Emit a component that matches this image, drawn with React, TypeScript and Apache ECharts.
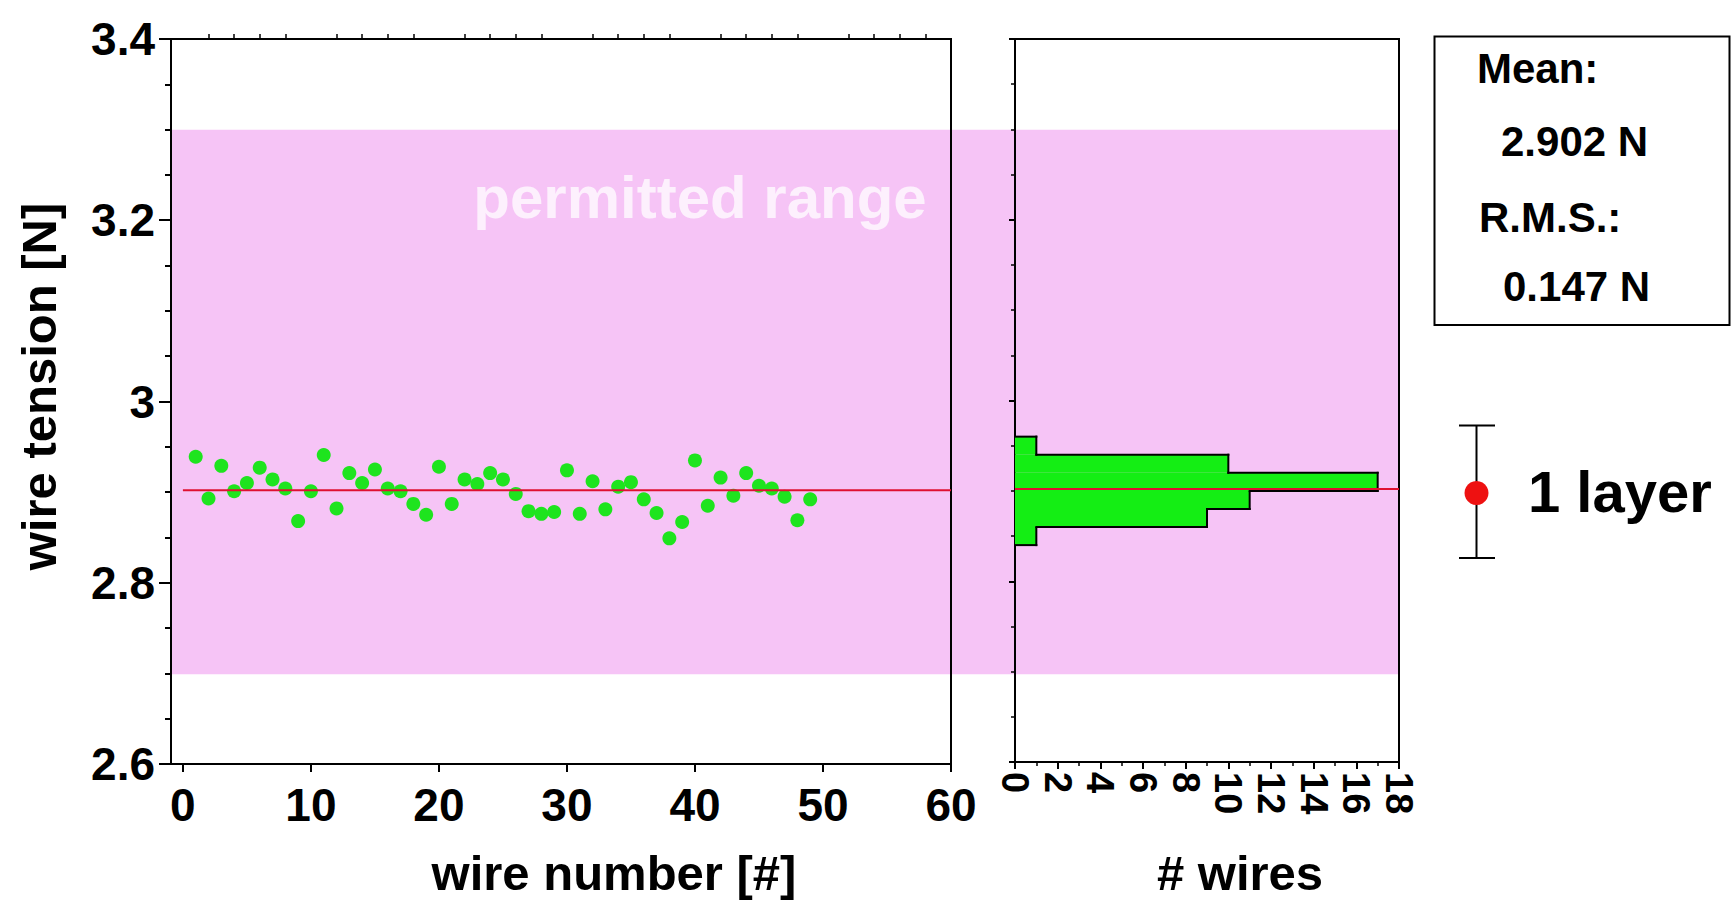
import React, { useEffect, useRef } from 'react';
import * as echarts from 'echarts';

// ---- data ----
const wireNumbers = [
  1, 2, 3, 4, 5, 6, 7, 8, 9, 10,
  11, 12, 13, 14, 15, 16, 17, 18, 19, 20,
  21, 22, 23, 24, 25, 26, 27, 28, 29, 30,
  31, 32, 33, 34, 35, 36, 37, 38, 39, 40,
  41, 42, 43, 44, 45, 46, 47, 48, 49,
];
const tensions = [
  2.939, 2.893, 2.929, 2.901, 2.910, 2.927, 2.914, 2.904, 2.868, 2.901,
  2.941, 2.882, 2.921, 2.910, 2.925, 2.904, 2.901, 2.887, 2.875, 2.928,
  2.887, 2.914, 2.909, 2.921, 2.914, 2.898, 2.879, 2.876, 2.878, 2.924,
  2.876, 2.912, 2.881, 2.906, 2.911, 2.892, 2.877, 2.849, 2.867, 2.935,
  2.885, 2.916, 2.896, 2.921, 2.907, 2.904, 2.895, 2.869, 2.892,
];
const binEdges = [2.84, 2.86, 2.88, 2.9, 2.92, 2.94, 2.96];
const binCounts = [1, 9, 11, 17, 10, 1];
const meanTension = 2.902;
const rmsTension = 0.147;
const permittedRange = [2.7, 3.3];
const xTickValues = [0, 10, 20, 30, 40, 50, 60];
const xMinorTickValues = [2, 4, 6, 8, 12, 14, 16, 18, 22, 24, 26, 28, 32, 34, 36, 38, 42, 44, 46, 48, 52, 54, 56, 58];
const legendLabel = '1 layer';
const bandLabel = 'permitted range';

const FONT = '"Liberation Sans", Arial, Helvetica, sans-serif';
const PINK = '#f6c4f6';
const GREEN = '#14ee14';
const DOT = '#1ee41e';
const RED = '#df1030';

export default function App() {
  const ref = useRef<HTMLDivElement>(null);

  useEffect(() => {
    document.body.style.margin = '0';
    if (!ref.current) return;
    const chart = echarts.init(ref.current, undefined, { renderer: 'svg' });

    const g1 = { left: 171, top: 39, width: 780, height: 726 };
    const g2 = { left: 1015, top: 39, width: 384, height: 726 };
    const gBg = { left: 171, top: 39, width: 1228, height: 726 };

    const histData = binCounts.map((c, i) => [
      binEdges[i],
      binEdges[i + 1],
      c,
      i === 0 ? 0 : binCounts[i - 1],
      i === binCounts.length - 1 ? 1 : 0,
    ]);

    const blackLine = { stroke: '#000', lineWidth: 2, lineCap: 'square' };

    const option: any = {
      animation: false,
      backgroundColor: '#fff',
      textStyle: { fontFamily: FONT },
      grid: [
        { ...gBg, show: false },
        { ...g1, show: true, borderColor: '#000', borderWidth: 2, z: 3 },
        { ...g2, show: true, borderColor: '#000', borderWidth: 2, z: 3 },
      ],
      xAxis: [
        { gridIndex: 0, type: 'value', min: 0, max: 1, show: false },
        {
          gridIndex: 1, type: 'value', min: -0.93, max: 60, z: 4,
          axisLine: { show: true, onZero: false, lineStyle: { color: '#000', width: 2 } },
          axisTick: { show: true, customValues: xTickValues, length: 8, lineStyle: { color: '#000', width: 2 } },
          axisLabel: { show: true, customValues: xTickValues, fontSize: 46, fontWeight: 'bold', color: '#000', margin: 18, fontFamily: FONT },
          splitLine: { show: false },
          name: 'wire number [#]', nameLocation: 'middle', nameGap: 84,
          nameTextStyle: { fontSize: 49, fontWeight: 'bold', color: '#000', fontFamily: FONT, padding: [0, 0, 0, 106] },
        },
        {
          gridIndex: 1, type: 'value', min: -0.93, max: 60, z: 4,
          axisLine: { show: false },
          axisTick: { show: true, customValues: xMinorTickValues, length: 5, lineStyle: { color: '#000', width: 1.5 } },
          axisLabel: { show: false },
          splitLine: { show: false },
        },
        {
          gridIndex: 2, type: 'value', min: 0, max: 18, interval: 2, z: 4,
          axisLine: { show: true, onZero: false, lineStyle: { color: '#000', width: 2 } },
          axisTick: { show: true, length: 7, lineStyle: { color: '#000', width: 2 } },
          minorTick: { show: true, splitNumber: 2, length: 4, lineStyle: { color: '#000', width: 1.5 } },
          axisLabel: { show: true, rotate: -90, fontSize: 38, fontWeight: 'bold', color: '#000', margin: 10, fontFamily: FONT },
          splitLine: { show: false },
          minorSplitLine: { show: false },
          name: '# wires', nameLocation: 'middle', nameGap: 86,
          nameTextStyle: { fontSize: 49, fontWeight: 'bold', color: '#000', fontFamily: FONT, padding: [0, 0, 0, 66] },
        },
      ],
      yAxis: [
        { gridIndex: 0, type: 'value', min: 2.6, max: 3.4, show: false },
        {
          gridIndex: 1, type: 'value', min: 2.6, max: 3.4, interval: 0.2, z: 4,
          axisLine: { show: true, onZero: false, lineStyle: { color: '#000', width: 2 } },
          axisTick: { show: true, length: 12, lineStyle: { color: '#000', width: 2 } },
          minorTick: { show: true, splitNumber: 4, length: 6, lineStyle: { color: '#000', width: 2 } },
          axisLabel: { show: true, fontSize: 46, fontWeight: 'bold', color: '#000', margin: 16, fontFamily: FONT },
          splitLine: { show: false },
          minorSplitLine: { show: false },
          name: 'wire tension [N]', nameLocation: 'middle', nameRotate: 90, nameGap: 108,
          nameTextStyle: { fontSize: 49, fontWeight: 'bold', color: '#000', fontFamily: FONT, padding: [0, 0, 0, 30] },
        },
        {
          gridIndex: 2, type: 'value', min: 2.6, max: 3.4, interval: 0.2, z: 4,
          axisLine: { show: true, onZero: false, lineStyle: { color: '#000', width: 2 } },
          axisTick: { show: true, length: 6, lineStyle: { color: '#000', width: 2 } },
          minorTick: { show: true, splitNumber: 4, length: 4, lineStyle: { color: '#000', width: 1.5 } },
          axisLabel: { show: false },
          splitLine: { show: false },
          minorSplitLine: { show: false },
        },
      ],
      series: [
        {
          type: 'custom', xAxisIndex: 0, yAxisIndex: 0, z: 1, silent: true,
          data: [[permittedRange[0], permittedRange[1]]],
          renderItem: (_p: any, api: any) => {
            const lo = api.value(0);
            const hi = api.value(1);
            const a = api.coord([0, hi]);
            const b = api.coord([1, lo]);
            return { type: 'rect', shape: { x: a[0], y: a[1], width: b[0] - a[0], height: b[1] - a[1] }, style: { fill: PINK } };
          },
        },
        {
          type: 'scatter', xAxisIndex: 1, yAxisIndex: 1, z: 5,
          symbol: 'circle', symbolSize: 14,
          itemStyle: { color: DOT, opacity: 1 },
          data: wireNumbers.map((w, i) => [w, tensions[i]]),
        },
        {
          type: 'custom', xAxisIndex: 3, yAxisIndex: 2, z: 5, silent: true,
          data: histData,
          renderItem: (_p: any, api: any) => {
            const lo = api.value(0);
            const hi = api.value(1);
            const c = api.value(2);
            const prev = api.value(3);
            const last = api.value(4);
            const pl = api.coord([0, lo]);
            const ph = api.coord([c, hi]);
            const children: any[] = [
              { type: 'rect', shape: { x: pl[0], y: ph[1], width: ph[0] - pl[0], height: pl[1] - ph[1] }, style: { fill: GREEN } },
              { type: 'line', shape: { x1: ph[0], y1: ph[1], x2: ph[0], y2: pl[1] }, style: blackLine },
            ];
            const a = api.coord([Math.min(prev, c), lo]);
            const b = api.coord([Math.max(prev, c), lo]);
            children.push({ type: 'line', shape: { x1: a[0], y1: a[1], x2: b[0], y2: b[1] }, style: blackLine });
            if (last) {
              children.push({ type: 'line', shape: { x1: pl[0], y1: ph[1], x2: ph[0], y2: ph[1] }, style: blackLine });
            }
            return { type: 'group', children };
          },
        },
        {
          type: 'line', xAxisIndex: 1, yAxisIndex: 1, z: 6, silent: true,
          showSymbol: false, symbol: 'none',
          lineStyle: { color: RED, width: 2 },
          data: [[0, meanTension], [60, meanTension]],
        },
        {
          type: 'line', xAxisIndex: 3, yAxisIndex: 2, z: 6, silent: true,
          showSymbol: false, symbol: 'none',
          lineStyle: { color: RED, width: 2 },
          data: [[0, meanTension], [18, meanTension]],
        },
      ],
      graphic: [
        {
          type: 'text', x: 700, y: 197, z: 10, silent: true,
          style: { text: bandLabel, fill: '#fdf0fd', font: `bold 60px ${FONT}`, textAlign: 'center', textVerticalAlign: 'middle' },
        },
        {
          type: 'rect', z: 10, silent: true,
          shape: { x: 1434.5, y: 36.5, width: 295, height: 288.5 },
          style: { fill: 'transparent', stroke: '#000', lineWidth: 2 },
        },
        {
          type: 'text', x: 1477, y: 68.5, z: 10, silent: true,
          style: { text: 'Mean:', fill: '#000', font: `bold 42px ${FONT}`, textAlign: 'left', textVerticalAlign: 'middle' },
        },
        {
          type: 'text', x: 1501, y: 141.5, z: 10, silent: true,
          style: { text: `${meanTension.toFixed(3)} N`, fill: '#000', font: `bold 42px ${FONT}`, textAlign: 'left', textVerticalAlign: 'middle' },
        },
        {
          type: 'text', x: 1479, y: 217.5, z: 10, silent: true,
          style: { text: 'R.M.S.:', fill: '#000', font: `bold 42px ${FONT}`, textAlign: 'left', textVerticalAlign: 'middle' },
        },
        {
          type: 'text', x: 1503, y: 286, z: 10, silent: true,
          style: { text: `${rmsTension.toFixed(3)} N`, fill: '#000', font: `bold 42px ${FONT}`, textAlign: 'left', textVerticalAlign: 'middle' },
        },
        {
          type: 'line', z: 10, silent: true,
          shape: { x1: 1476.5, y1: 425.5, x2: 1476.5, y2: 558 },
          style: { stroke: '#000', lineWidth: 2 },
        },
        {
          type: 'line', z: 10, silent: true,
          shape: { x1: 1459, y1: 425.5, x2: 1495, y2: 425.5 },
          style: { stroke: '#000', lineWidth: 2 },
        },
        {
          type: 'line', z: 10, silent: true,
          shape: { x1: 1459, y1: 558, x2: 1495, y2: 558 },
          style: { stroke: '#000', lineWidth: 2 },
        },
        {
          type: 'circle', z: 11, silent: true,
          shape: { cx: 1476.5, cy: 493, r: 12 },
          style: { fill: '#ee1111' },
        },
        {
          type: 'text', x: 1528, y: 491, z: 10, silent: true,
          style: { text: legendLabel, fill: '#000', font: `bold 58px ${FONT}`, textAlign: 'left', textVerticalAlign: 'middle' },
        },
      ],
    };

    chart.setOption(option);
    return () => chart.dispose();
  }, []);

  return <div ref={ref} style={{ width: 1733, height: 902 }} />;
}
